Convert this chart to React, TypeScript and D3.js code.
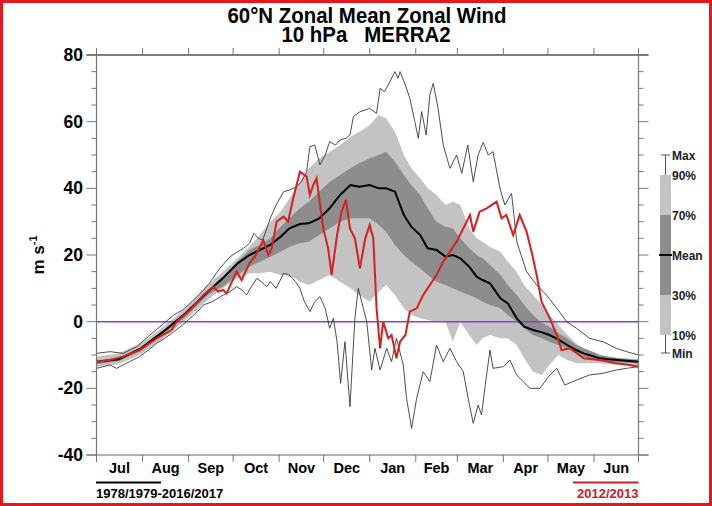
import * as d3 from 'd3';

// day offsets from 1 July
const monthStarts = [0, 31, 62, 92, 123, 153, 184, 215, 243, 274, 304, 335, 365];
const monthLabels = ['Jul', 'Aug', 'Sep', 'Oct', 'Nov', 'Dec', 'Jan', 'Feb', 'Mar', 'Apr', 'May', 'Jun'];
const yTickLabels = [-40, -20, 0, 20, 40, 60, 80];
const legendLabels = ['Max', '90%', '70%', 'Mean', '30%', '10%', 'Min'];

// climatology 1978/1979-2016/2017 (m/s)
const bandDays = [0, 15, 30, 45, 60, 75, 85, 95, 103, 110, 117, 124, 130, 137, 143, 150, 157, 164, 171, 177, 184, 190, 195, 201, 207, 212, 218, 223, 229, 235, 240, 245, 251, 256, 260, 265, 272, 277, 283, 288, 294, 300, 305, 311, 317, 323, 328, 334, 339, 345, 351, 357, 365];
const meanVals = [-12, -11.3, -8, -3, 2.5, 9, 13, 17.5, 20, 21.5, 23, 25.5, 28, 29.3, 29.5, 31, 34, 38, 41, 40.5, 41, 40, 40, 39, 32, 28.5, 26, 22, 21.5, 19.5, 20, 19, 16.5, 13.5, 12.5, 11.5, 7, 5.5, 1, -1.5, -2.5, -3.2, -4, -5.3, -7, -8.5, -9.5, -10.3, -11, -11.3, -11.5, -11.7, -12];
const p90Vals = [-10.5, -9.5, -6.5, -1.5, 4, 11, 15, 19, 22.5, 26, 30, 33, 37, 42, 46, 49, 51, 53, 55.5, 57, 59, 62, 61, 57, 50, 46, 43, 40, 38, 35, 36, 35, 28, 25, 24, 22.5, 21, 18, 15, 11, 8, 5, 2, -1, -4, -6.5, -8, -9, -10, -10.5, -10.8, -11, -11.3];
const p70Vals = [-11.8, -10.8, -7.5, -2.5, 3, 9.5, 13.5, 18, 21.5, 23, 25, 28.5, 31, 34, 36, 39, 42, 44, 46, 47.5, 49, 50, 51, 48, 44, 41, 38, 34, 30, 28.5, 28, 25, 22, 20, 19, 17, 14, 11, 8, 5, 2, -0.5, -1.5, -3.5, -5, -7, -8, -9, -10, -10.5, -11, -11.2, -11.5];
const p30Vals = [-12.8, -11.8, -8.8, -3.8, 1.5, 8, 10.5, 14, 16.5, 18, 19.5, 21, 22.5, 23.5, 24, 26, 28, 30, 31, 31, 31, 29, 27, 23, 20, 18, 16, 14, 12, 11, 10, 9, 8, 7, 6, 5, 4, 2, 0, -2, -4, -5, -6, -7, -8, -9.5, -10.5, -11.3, -11.8, -12, -12.2, -12.3, -12.5];
const p10Vals = [-13.5, -12.8, -9.8, -5, 0.5, 6.5, 10, 13, 14.5, 14.5, 15, 14, 14, 12, 11, 12.5, 14, 12, 10, 8, 6, 9, 11, 8, 4, 2, 1, 0.5, 0, 0, -6, 0, -4, -7, -5, -4, -5, -5, -7, -11, -15, -16, -13, -10, -11.5, -12.5, -12.5, -12.5, -12.5, -12.8, -13, -13, -13.2];

const maxSeries: [number, number][] = [[0, -9.5], [9, -9], [18, -9.5], [27, -7.5], [36, -4], [44, -1], [52, 2], [58, 3.5], [63, 5.5], [70, 8.5], [76, 11.5], [83, 16], [90, 19.5], [95, 21], [99, 22], [103, 23.5], [106, 26.5], [109, 25], [112, 24.5], [117, 31], [121, 35], [126, 39], [130, 39.5], [135, 40.5], [138, 42], [141.5, 45], [143.7, 52.5], [147, 53], [150.5, 47], [154, 50], [157, 54], [161, 53], [164, 54.5], [168, 55], [170.7, 56], [173, 61.5], [177.4, 63], [181, 63.5], [184, 64], [188.6, 62.5], [191, 70], [194, 69], [197.6, 72], [201, 75], [203, 73], [204.4, 75], [208, 71], [211, 67], [214.4, 60], [216.7, 55], [219, 63], [222, 56], [224.5, 68], [226.8, 71.5], [230, 64], [233.5, 53], [238, 46], [242.5, 50], [246, 44.5], [250, 53], [253.7, 42], [257, 50], [260.4, 53.8], [263.8, 50], [267, 51], [271.7, 40], [275, 35], [279.5, 38.5], [283, 24], [289.6, 15], [296.4, 11], [303, 8], [310, 4], [316.6, 0], [323.3, -2], [332, -5], [341, -6], [350, -8], [357, -9], [365, -10]];

const minSeries: [number, number][] = [[0, -14], [9, -13], [13.5, -14], [20, -12.5], [29, -10.5], [35, -8.5], [40.5, -6.5], [46, -5], [52, -3], [58, -1], [63, 1], [68, 3], [72, 5], [78, 6], [85.4, 8], [90, 9], [94.4, 10.5], [98, 9.5], [101, 8], [105, 11], [108, 13], [111, 12], [114.6, 10.5], [117, 12], [121, 10], [126, 14.5], [130, 14], [134, 12], [137, 10], [140, 6], [143.7, 3], [147, 6], [150.5, 7.5], [154, 4], [157, -2], [159.5, 1], [162, -6], [164.4, -18.5], [167.3, -6], [170.7, -25.5], [174, 1], [176.3, 10], [179.7, 4], [182, 0], [185.3, -14.5], [187.5, -8], [191, -14.5], [195.4, -8], [198.7, -12], [202, -5], [206.6, -13], [208.8, -23], [212.2, -32], [215.6, -23], [220, -15], [224.5, -18], [229, -7], [233.5, -12], [238, -8], [242.5, -12], [247, -15], [250.3, -23], [253.7, -30.5], [257, -25], [259.3, -28], [262.7, -16], [265, -8.5], [267, -14], [274, -13.5], [278.4, -11.5], [283, -16], [287.4, -18], [292, -20], [298.6, -20], [305.3, -16], [310, -14], [315.4, -19], [323.3, -17.5], [332, -16], [341, -15.5], [350, -14.5], [357, -14], [365, -13.5]];

// winter 2012/2013
const yearSeries: [number, number][] = [[0, -12], [9, -11.5], [18, -10.5], [29, -8.5], [40.5, -5], [50.6, -2.5], [54, 0], [63, 3.5], [72, 8], [78.6, 10.5], [82, 9], [85.4, 9.5], [87.6, 8.5], [94.4, 15], [97.7, 12.5], [103, 17.5], [106.7, 19.5], [112.3, 24.5], [115.7, 20], [118, 22], [121.3, 30], [126, 31.5], [129, 30], [132.5, 37], [137, 45], [141.5, 43.5], [143.7, 38], [146, 41], [148.2, 43], [152.7, 28], [156, 22], [158.3, 14], [162, 26], [165, 33], [168, 36.5], [170.7, 28], [174, 25], [177.4, 16], [181, 25], [184, 29], [186.4, 25], [188.6, 4], [191, -8], [193, 0], [196.5, -5], [198.7, -4], [202, -11], [204.4, -6], [208, -4], [211, 3], [215.6, 4], [220, 8], [224.5, 11], [229, 14], [233.5, 18], [238, 21], [242.5, 24], [247, 28], [251.5, 32], [253.7, 27], [258, 33], [262.7, 34], [269.4, 36], [272.8, 31], [276, 32], [280.6, 26], [285, 32], [289.6, 27], [293, 21], [296.4, 14], [299.7, 6], [305.3, 1], [310, -4], [313.2, -8.5], [319, -8], [328, -11], [339, -11.5], [350, -12.5], [359, -13], [365, -13.5]];

const W = 712;
const H = 506;
const plot = { left: 96.5, right: 638.5, top: 55, bottom: 455 };
const font = '"Liberation Sans", Arial, sans-serif';

export default function App() {
  const x = d3.scaleLinear().domain([0, 365]).range([plot.left, plot.right]);
  const y = d3.scaleLinear().domain([-40, 80]).range([plot.bottom, plot.top]);

  const rows = bandDays.map((d, i) => ({
    day: d, mean: meanVals[i], p90: p90Vals[i], p70: p70Vals[i], p30: p30Vals[i], p10: p10Vals[i],
  }));
  type Row = (typeof rows)[number];
  const outer = d3.area<Row>().x(d => x(d.day)).y0(d => y(d.p10)).y1(d => y(d.p90));
  const inner = d3.area<Row>().x(d => x(d.day)).y0(d => y(d.p30)).y1(d => y(d.p70));
  const meanLine = d3.line<Row>().x(d => x(d.day)).y(d => y(d.mean));
  const pairLine = d3.line<[number, number]>().x(d => x(d[0])).y(d => y(d[1]));

  const minorTicks = d3.range(-40, 81, 5);

  // where each statistic sits in the key
  const keyPos: Record<string, number> = { Max: 155, '90%': 175, '70%': 215, Mean: 255, '30%': 295, '10%': 335, Min: 353 };

  return (
    <svg width={W} height={H} style={{ position: 'absolute', left: 0, top: 0, background: '#fff' }} fontFamily={font}>
      <rect x={1.5} y={1.5} width={W - 3} height={H - 3} fill="#fff" stroke="#e3191c" strokeWidth={3} />

      {/* title */}
      <text transform="translate(367,23) scale(0.95,1.05)" textAnchor="middle" fontSize={21.5} fontWeight="bold">60°N Zonal Mean Zonal Wind</text>
      <text transform="translate(366,42) scale(0.95,1.05)" textAnchor="middle" fontSize={21.5} fontWeight="bold" style={{ whiteSpace: 'pre' }}>{'10 hPa   MERRA2'}</text>

      {/* bands */}
      <path d={outer(rows)!} fill="#c3c3c3" />
      <path d={inner(rows)!} fill="#8d8d8d" />

      {/* zero line */}
      <line x1={plot.left} x2={plot.right} y1={y(0)} y2={y(0)} stroke="#8a3fd0" strokeWidth={1.5} />

      {/* extremes, mean and the selected winter */}
      <path d={pairLine(maxSeries)!} fill="none" stroke="#3a3a3a" strokeWidth={0.9} />
      <path d={pairLine(minSeries)!} fill="none" stroke="#3a3a3a" strokeWidth={0.9} />
      <path d={meanLine(rows)!} fill="none" stroke="#000" strokeWidth={2} />
      <path d={pairLine(yearSeries)!} fill="none" stroke="#d81e1e" strokeWidth={2} />

      {/* frame */}
      <line x1={86.5} x2={648.5} y1={plot.top} y2={plot.top} stroke="#000" strokeWidth={1.2} />
      <line x1={86.5} x2={648.5} y1={plot.bottom} y2={plot.bottom} stroke="#666" strokeWidth={1.2} />
      <line x1={plot.left} x2={plot.left} y1={plot.top} y2={plot.bottom} stroke="#777" strokeWidth={1.2} />
      <line x1={plot.right} x2={plot.right} y1={plot.top} y2={plot.bottom} stroke="#777" strokeWidth={1.2} />

      {monthStarts.map(d => (
        <g key={d}>
          <line x1={x(d)} x2={x(d)} y1={plot.top} y2={plot.top - 7} stroke="#777" />
          <line x1={x(d)} x2={x(d)} y1={plot.bottom} y2={plot.bottom + 7} stroke="#777" />
        </g>
      ))}
      {monthLabels.map((m, i) => (
        <text key={m} x={(x(monthStarts[i]) + x(monthStarts[i + 1])) / 2} y={473} textAnchor="middle" fontSize={14.5} fontWeight="bold">{m}</text>
      ))}

      {minorTicks.map(v => {
        const len = v % 20 === 0 ? 10 : 5;
        return (
          <g key={v}>
            <line x1={plot.left - len} x2={plot.left} y1={y(v)} y2={y(v)} stroke="#777" />
            <line x1={plot.right} x2={plot.right + len} y1={y(v)} y2={y(v)} stroke="#777" />
          </g>
        );
      })}
      {yTickLabels.map(v => (
        <text key={v} x={83} y={y(v) + 6} textAnchor="end" fontSize={17.5} fontWeight="bold">{v}</text>
      ))}

      <text transform={`translate(44,${y(20)}) rotate(-90)`} textAnchor="middle" fontSize={17} fontWeight="bold">
        m s<tspan fontSize={11} dy={-7}>-1</tspan>
      </text>

      {/* key */}
      <line x1={665.5} x2={665.5} y1={keyPos.Max} y2={keyPos['90%']} stroke="#555" />
      <line x1={665.5} x2={665.5} y1={keyPos['10%']} y2={keyPos.Min} stroke="#555" />
      <line x1={661} x2={670} y1={keyPos.Max} y2={keyPos.Max} stroke="#555" />
      <line x1={661} x2={670} y1={keyPos.Min} y2={keyPos.Min} stroke="#555" />
      <rect x={660} y={keyPos['90%']} width={11} height={keyPos['10%'] - keyPos['90%']} fill="#c3c3c3" />
      <rect x={660} y={keyPos['70%']} width={11} height={keyPos['30%'] - keyPos['70%']} fill="#8d8d8d" />
      <line x1={659} x2={672} y1={keyPos.Mean} y2={keyPos.Mean} stroke="#000" strokeWidth={2} />
      {legendLabels.map(k => (
        <text key={k} x={672} y={keyPos[k] + 4.5} fontSize={12} fontWeight="bold" fill="#222">{k}</text>
      ))}

      {/* period legend */}
      <line x1={96} x2={161} y1={482.5} y2={482.5} stroke="#000" strokeWidth={2} />
      <text x={96} y={498} fontSize={13} fontWeight="bold">1978/1979-2016/2017</text>
      <line x1={573} x2={638.5} y1={482.5} y2={482.5} stroke="#c8202a" strokeWidth={2} />
      <text x={638.5} y={498} textAnchor="end" fontSize={13} fontWeight="bold" fill="#c8202a">2012/2013</text>
    </svg>
  );
}
